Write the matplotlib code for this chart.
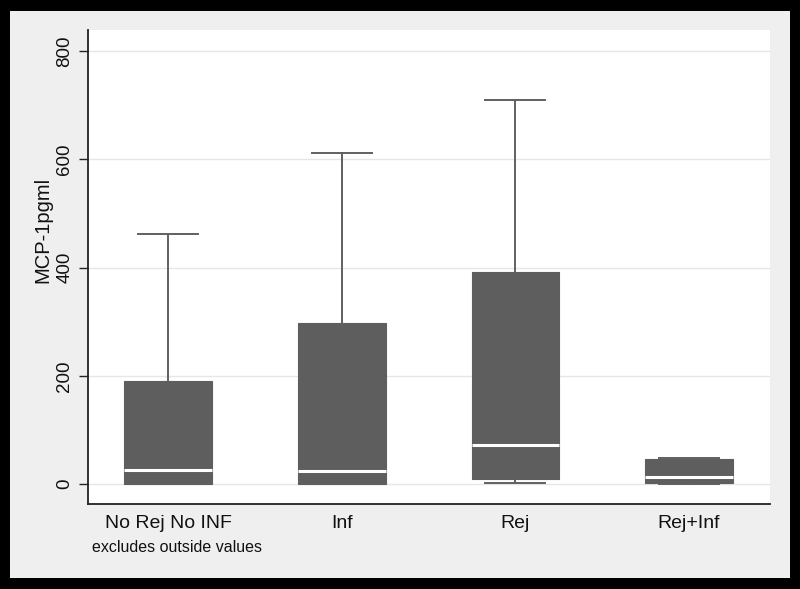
import matplotlib
matplotlib.use("Agg")
import matplotlib.pyplot as plt
from matplotlib.patches import Rectangle

plt.rcParams['font.family'] = ['Liberation Sans', 'DejaVu Sans']

categories = ["No Rej No INF", "Inf", "Rej", "Rej+Inf"]
whisker_low = [0, 0, 1, 0]
q1 = [0, 0, 9, 2]
median = [26, 24, 72, 13]
q3 = [191, 297, 392, 47]
whisker_high = [461, 612, 709, 49]
yticks = [0, 200, 400, 600, 800]

W, H = 800, 589
fig = plt.figure(figsize=(W / 100, H / 100), dpi=100)
fig.patch.set_facecolor('black')
fig.patches.append(Rectangle((10 / W, 11 / H), 780 / W, 567 / H,
                             transform=fig.transFigure, facecolor='#efefef',
                             edgecolor='none', zorder=-10))

ax = fig.add_axes([88 / W, 1 - 504 / H, 682 / W, 474 / H])
ax.set_zorder(1)
ax.set_facecolor('white')

stats = []
for i, c in enumerate(categories):
    stats.append(dict(label=c, whislo=whisker_low[i], q1=q1[i], med=median[i],
                      q3=q3[i], whishi=whisker_high[i], fliers=[]))

positions = list(range(1, len(categories) + 1))
ax.bxp(stats, positions=positions, widths=0.505, capwidths=0.345,
       patch_artist=True, showfliers=False,
       boxprops=dict(facecolor='#5e5e5e', edgecolor='#5e5e5e', linewidth=0.8),
       medianprops=dict(color='white', linewidth=2.2, solid_capstyle='butt'),
       whiskerprops=dict(color='#606060', linewidth=1.4),
       capprops=dict(color='#606060', linewidth=1.4),
       zorder=3)

ax.set_xlim(0.539, 4.466)
ax.set_ylim(-36.9, 838.8)
ax.set_yticks(yticks)
ax.set_yticklabels([str(v) for v in yticks], rotation=90, va='center',
                   fontsize=13.5, color='#111111')
ax.set_xticks(positions)
ax.set_xticklabels(categories, fontsize=14, color='#111111')
ax.tick_params(axis='x', length=0, pad=8)
ax.tick_params(axis='y', length=6.5, width=1.0, pad=4, color='#222222')
ax.grid(axis='y', color='#e6e6e6', linewidth=1.0, zorder=0)
ax.set_axisbelow(True)

for s in ['top', 'right']:
    ax.spines[s].set_visible(False)
for s in ['left', 'bottom']:
    ax.spines[s].set_color('#222222')
    ax.spines[s].set_linewidth(1.3)

fig.text(43 / W, 1 - 230 / H, 'MCP-1pgml', rotation=90, ha='center',
         va='center', fontsize=14.5, color='#111111')
fig.text(92 / W, 1 - 547 / H, 'excludes outside values', ha='left',
         va='center', fontsize=11.5, color='#111111')

fig.savefig('out.png', dpi=100, facecolor=fig.get_facecolor())
